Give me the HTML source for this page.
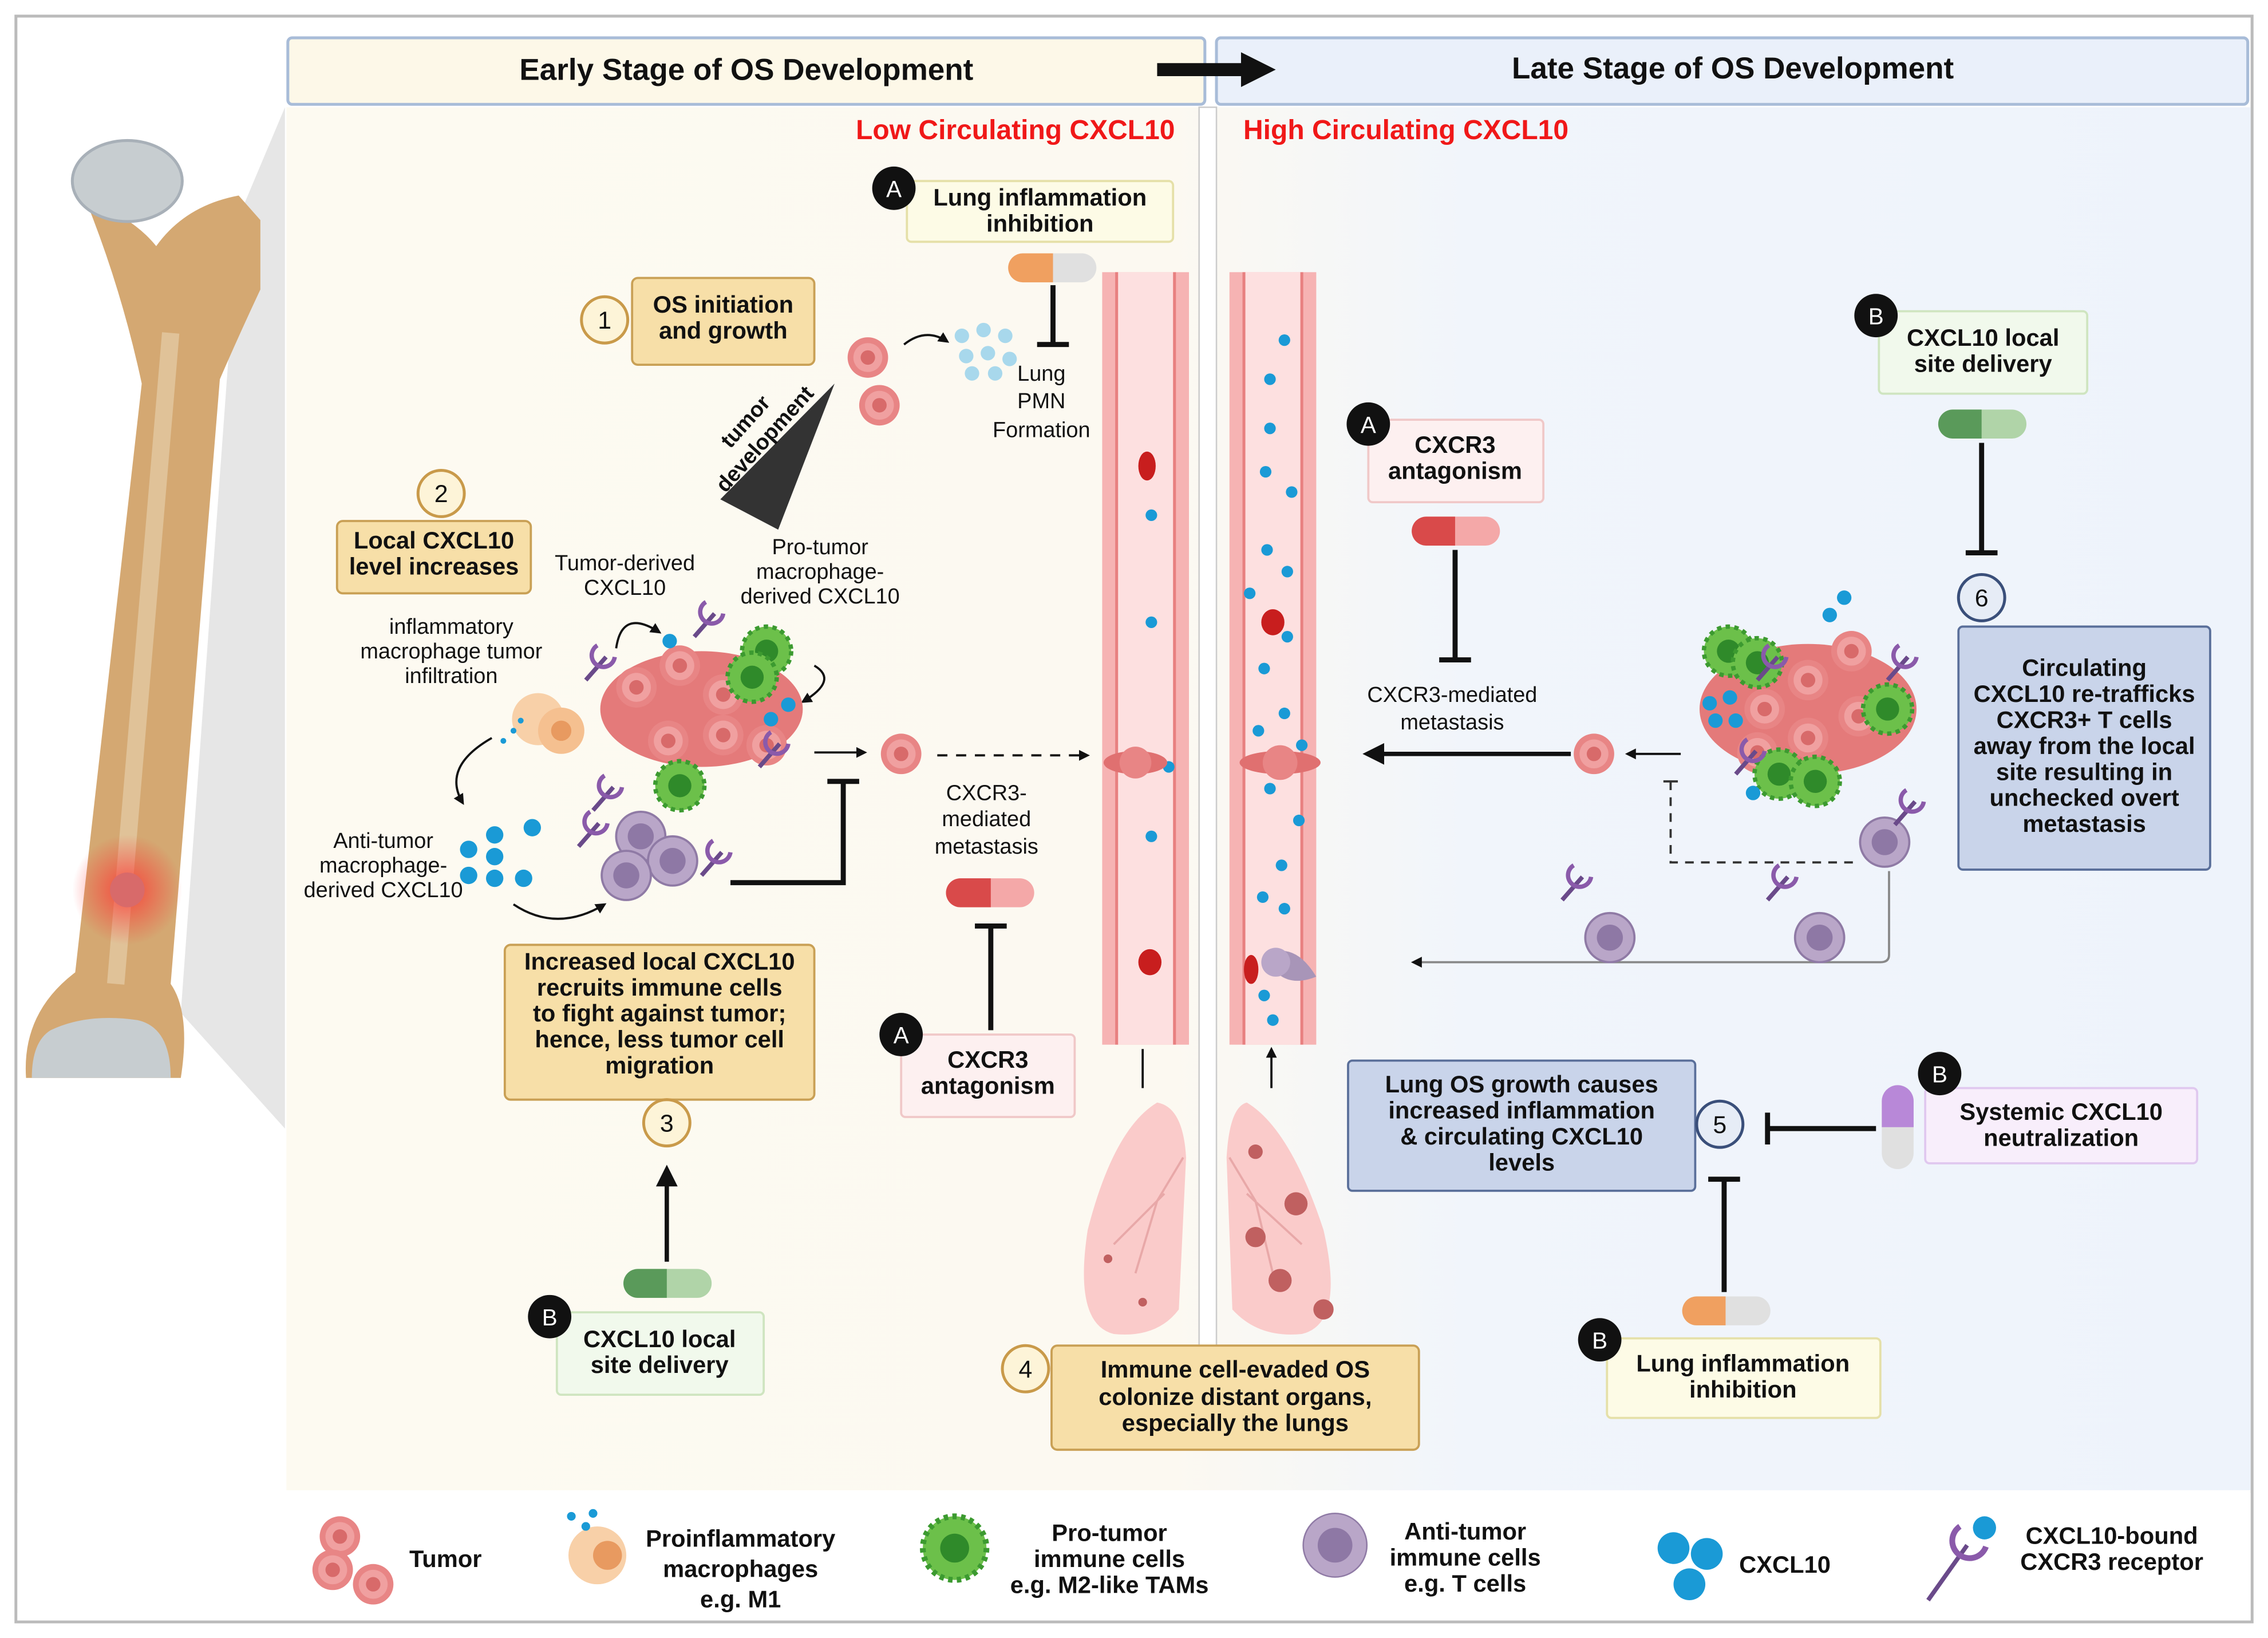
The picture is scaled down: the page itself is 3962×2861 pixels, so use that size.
<!DOCTYPE html>
<html><head><meta charset="utf-8"><style>
html,body{margin:0;padding:0;background:#fff}
svg{display:block}
text{font-family:"Liberation Sans",sans-serif;}
.b{font-weight:bold;font-size:16.5px;fill:#111;text-anchor:middle}
.n{font-size:15px;fill:#111;text-anchor:middle}
</style></head><body>
<svg width="3962" height="2861" viewBox="0 0 1568 1132" xmlns="http://www.w3.org/2000/svg">
<defs>
<linearGradient id="bg" x1="0" x2="1" y1="0" y2="0">
<stop offset="0" stop-color="#fdfaf1"/><stop offset="0.45" stop-color="#fcf9f1"/><stop offset="0.6" stop-color="#f1f5fb"/><stop offset="1" stop-color="#eef3fb"/></linearGradient>
<radialGradient id="glow"><stop offset="0" stop-color="#ff3030" stop-opacity="0.8"/><stop offset="1" stop-color="#ff3030" stop-opacity="0"/></radialGradient>
<marker id="ah" viewBox="0 0 10 10" refX="8" refY="5" markerWidth="5" markerHeight="5" orient="auto"><path d="M0,0L10,5L0,10z" fill="#111"/></marker>
<g id="tum"><circle r="14" fill="#e88585"/><circle r="10" fill="#f0a0a0"/><circle r="5" fill="#d86a6a"/></g>
<g id="grn"><circle r="17" fill="#6cc04a" stroke="#3c9a30" stroke-width="3" stroke-dasharray="3 3"/><circle r="8" fill="#2f8a2a"/></g>
<g id="pur"><circle r="17" fill="#b9a6c8" stroke="#8f7aa5" stroke-width="1.5"/><circle r="9" fill="#8e78a5"/></g>
<g id="rec"><line x1="0" y1="0" x2="14" y2="-16" stroke="#6a4a8a" stroke-width="3"/><path d="M8,-24 a8,8 0 1,0 12,8" fill="none" stroke="#8a5aaa" stroke-width="3"/></g>
</defs>
<rect x="0" y="0" width="1568" height="1132" fill="#fff"/>
<rect x="11" y="11" width="1546" height="1110" fill="#fff" stroke="#bbb" stroke-width="2"/>
<rect x="198" y="74" width="1358" height="956" fill="url(#bg)"/>
<!-- gray projection -->
<polygon points="165,150 197,74 197,780 125,700" fill="#e6e6e6"/>
<!-- bone -->
<path d="M60,140 Q90,148 108,170 Q128,142 165,135 L180,152 L180,200 Q165,232 152,262 L118,680 Q132,700 125,745 L18,745 Q15,700 52,672 L98,265 Q84,200 60,140 Z" fill="#d4a872"/>
<path d="M118,230 L80,680" stroke="#e0c298" stroke-width="12" fill="none"/>
<ellipse cx="88" cy="125" rx="38" ry="28" fill="#c7cdd0" stroke="#a8b0b8" stroke-width="2"/>
<path d="M35,712 Q60,700 95,705 Q118,710 118,745 L22,745 Q22,720 35,712 Z" fill="#c7cdd0"/>
<circle cx="88" cy="615" r="38" fill="url(#glow)"/>
<circle cx="88" cy="615" r="12" fill="#d86a6a"/>
<!-- headers -->
<rect x="199" y="26" width="634" height="46" rx="3" fill="#fdf8e8" stroke="#a8bcd8" stroke-width="2"/>
<rect x="841" y="26" width="713" height="46" rx="3" fill="#eaf0fa" stroke="#a8bcd8" stroke-width="2"/>
<text x="516" y="55" class="b" style="font-size:21px">Early Stage of OS Development</text>
<text x="1198" y="54" class="b" style="font-size:21px">Late Stage of OS Development</text>
<path d="M800,48 L862,48" stroke="#111" stroke-width="9"/><path d="M858,36 L882,48 L858,60z" fill="#111"/>
<text x="702" y="96" class="b" style="fill:#f01818;font-size:19px">Low Circulating CXCL10</text>
<text x="972" y="96" class="b" style="fill:#f01818;font-size:19px">High Circulating CXCL10</text>
<!-- divider -->
<rect x="829" y="74" width="12" height="856" fill="#fff" stroke="#ccc"/>
<!-- vessels -->
<g>
<rect x="762" y="188" width="60" height="534" fill="#f6b3b3"/>
<rect x="772" y="188" width="40" height="534" fill="#fde0e0"/>
<rect x="850" y="188" width="60" height="534" fill="#f6b3b3"/>
<rect x="860" y="188" width="40" height="534" fill="#fde0e0"/>
<path d="M772,188 V722 M812,188 V722 M860,188 V722 M900,188 V722" stroke="#e88080" stroke-width="2"/>
<ellipse cx="793" cy="322" rx="6" ry="10" fill="#c81e1e"/>
<ellipse cx="795" cy="665" rx="8" ry="9" fill="#c81e1e"/>
<ellipse cx="880" cy="430" rx="8" ry="9" fill="#c81e1e"/>
<ellipse cx="865" cy="670" rx="5" ry="10" fill="#c81e1e"/>
<g fill="#1a9ad6">
<circle cx="796" cy="356" r="4"/><circle cx="796" cy="430" r="4"/><circle cx="808" cy="530" r="4"/><circle cx="796" cy="578" r="4"/>
<circle cx="888" cy="235" r="4"/><circle cx="878" cy="262" r="4"/><circle cx="878" cy="296" r="4"/><circle cx="875" cy="326" r="4"/><circle cx="893" cy="340" r="4"/>
<circle cx="876" cy="380" r="4"/><circle cx="890" cy="395" r="4"/><circle cx="864" cy="410" r="4"/><circle cx="890" cy="440" r="4"/><circle cx="874" cy="462" r="4"/>
<circle cx="888" cy="493" r="4"/><circle cx="870" cy="505" r="4"/><circle cx="900" cy="515" r="4"/><circle cx="878" cy="545" r="4"/><circle cx="898" cy="567" r="4"/><circle cx="886" cy="598" r="4"/><circle cx="873" cy="620" r="4"/><circle cx="888" cy="628" r="4"/><circle cx="874" cy="688" r="4"/><circle cx="880" cy="705" r="4"/></g>
<ellipse cx="785" cy="527" rx="22" ry="8" fill="#e07070"/><circle cx="785" cy="527" r="11" fill="#e88585"/>
<ellipse cx="885" cy="527" rx="28" ry="8" fill="#e07070"/><circle cx="885" cy="527" r="12" fill="#e88585"/>
<path d="M875,660 q20,-10 35,15 q-25,10 -35,-15z" fill="#a895b8"/><circle cx="882" cy="665" r="10" fill="#b9a6c8"/>
</g>
<path d="M790,752 V725 M879,752 V725" stroke="#111" stroke-width="1.5" marker-end="url(#ah)"/>
<!-- lungs -->
<path d="M800,762 Q770,780 752,850 Q742,915 770,922 Q800,925 815,905 L820,800 Q818,765 800,762Z" fill="#f9c5c5" opacity="0.9"/>
<path d="M862,762 Q892,780 915,850 Q930,915 900,922 Q870,925 852,905 L848,800 Q850,765 862,762Z" fill="#f9c5c5" opacity="0.9"/>
<path d="M818,800 L800,830 L785,880 M805,825 L770,860 M850,800 L868,830 L880,880 M862,825 L900,860" stroke="#e8a8a8" stroke-width="1.5" fill="none"/>
<g fill="#c06060"><circle cx="868" cy="796" r="5"/><circle cx="896" cy="832" r="8"/><circle cx="868" cy="855" r="7"/><circle cx="885" cy="885" r="8"/><circle cx="915" cy="905" r="7"/><circle cx="766" cy="870" r="3"/><circle cx="790" cy="900" r="3"/></g>
<!-- boxes -->
<g stroke-width="1.5">
<rect x="437" y="192" width="126" height="60" rx="4" fill="#f7dfa8" stroke="#c9a055"/>
<rect x="233" y="360" width="134" height="50" rx="4" fill="#f7dfa8" stroke="#c9a055"/>
<rect x="349" y="653" width="214" height="107" rx="4" fill="#f7dfa8" stroke="#c9a055"/>
<rect x="727" y="930" width="254" height="72" rx="4" fill="#f7dfa8" stroke="#c9a055"/>
<rect x="627" y="125" width="184" height="42" rx="3" fill="#fdfbe6" stroke="#e5e0a8"/>
<rect x="1111" y="925" width="189" height="55" rx="3" fill="#fdfbe6" stroke="#e5e0a8"/>
<rect x="946" y="290" width="121" height="57" rx="3" fill="#fdf0f0" stroke="#f0c8c8"/>
<rect x="623" y="715" width="120" height="57" rx="3" fill="#fdf0f0" stroke="#f0c8c8"/>
<rect x="1299" y="215" width="144" height="57" rx="3" fill="#f1f9ec" stroke="#cfe5c0"/>
<rect x="385" y="907" width="143" height="57" rx="3" fill="#f1f9ec" stroke="#cfe5c0"/>
<rect x="1331" y="752" width="188" height="52" rx="3" fill="#f8eefb" stroke="#e0c8ef"/>
<rect x="1354" y="433" width="174" height="168" rx="3" fill="#c9d4ea" stroke="#5a6f9a"/>
<rect x="932" y="733" width="240" height="90" rx="3" fill="#c9d4ea" stroke="#5a6f9a"/>
</g>
<text class="b"><tspan x="500" y="216">OS initiation</tspan><tspan x="500" y="234">and growth</tspan></text>
<text class="b"><tspan x="300" y="379">Local CXCL10</tspan><tspan x="300" y="397">level increases</tspan></text>
<text class="b"><tspan x="456" y="670">Increased local CXCL10</tspan><tspan x="456" y="688">recruits immune cells</tspan><tspan x="456" y="706">to fight against tumor;</tspan><tspan x="456" y="724">hence, less tumor cell</tspan><tspan x="456" y="742">migration</tspan></text>
<text class="b"><tspan x="854" y="952">Immune cell-evaded OS</tspan><tspan x="854" y="971">colonize distant organs,</tspan><tspan x="854" y="989">especially the lungs</tspan></text>
<text class="b"><tspan x="719" y="142">Lung inflammation</tspan><tspan x="719" y="160">inhibition</tspan></text>
<text class="b"><tspan x="1205" y="948">Lung inflammation</tspan><tspan x="1205" y="966">inhibition</tspan></text>
<text class="b"><tspan x="1006" y="313">CXCR3</tspan><tspan x="1006" y="331">antagonism</tspan></text>
<text class="b"><tspan x="683" y="738">CXCR3</tspan><tspan x="683" y="756">antagonism</tspan></text>
<text class="b"><tspan x="1371" y="239">CXCL10 local</tspan><tspan x="1371" y="257">site delivery</tspan></text>
<text class="b"><tspan x="456" y="931">CXCL10 local</tspan><tspan x="456" y="949">site delivery</tspan></text>
<text class="b"><tspan x="1425" y="774">Systemic CXCL10</tspan><tspan x="1425" y="792">neutralization</tspan></text>
<text class="b"><tspan x="1441" y="467">Circulating</tspan><tspan x="1441" y="485">CXCL10 re-trafficks</tspan><tspan x="1441" y="503">CXCR3+ T cells</tspan><tspan x="1441" y="521">away from the local</tspan><tspan x="1441" y="539">site resulting in</tspan><tspan x="1441" y="557">unchecked overt</tspan><tspan x="1441" y="575">metastasis</tspan></text>
<text class="b"><tspan x="1052" y="755">Lung OS growth causes</tspan><tspan x="1052" y="773">increased inflammation</tspan><tspan x="1052" y="791">&amp; circulating CXCL10</tspan><tspan x="1052" y="809">levels</tspan></text>
<!-- numbered circles -->
<g stroke-width="2" fill="#fdf4d8" stroke="#c99a4a">
<circle cx="418" cy="221" r="16"/><circle cx="305" cy="341" r="16"/><circle cx="461" cy="776" r="16"/><circle cx="709" cy="946" r="16"/></g>
<g stroke-width="2" fill="#e6ecf6" stroke="#3a4f7a"><circle cx="1189" cy="777" r="16"/><circle cx="1370" cy="413" r="16"/></g>
<g><text x="418" y="227" class="n" style="font-size:17px">1</text><text x="305" y="347" class="n" style="font-size:17px">2</text><text x="461" y="782" class="n" style="font-size:17px">3</text><text x="709" y="952" class="n" style="font-size:17px">4</text><text x="1189" y="783" class="n" style="font-size:17px">5</text><text x="1370" y="419" class="n" style="font-size:17px">6</text></g>
<g fill="#111"><circle cx="618" cy="130" r="15"/><circle cx="1297" cy="218" r="15"/><circle cx="946" cy="293" r="15"/><circle cx="623" cy="715" r="15"/><circle cx="380" cy="910" r="15"/><circle cx="1341" cy="742" r="15"/><circle cx="1106" cy="926" r="15"/></g>
<g style="fill:#fff;font-size:16px;text-anchor:middle"><text x="618" y="136">A</text><text x="1297" y="224">B</text><text x="946" y="299">A</text><text x="623" y="721">A</text><text x="380" y="916">B</text><text x="1341" y="748">B</text><text x="1106" y="932">B</text></g>
<!-- pills -->
<g>
<rect x="697" y="175" width="61" height="20" rx="10" fill="#e0e0e0"/><path d="M707,175 H728 V195 H707 a10,10 0 0,1 0,-20z" fill="#f0a060"/>
<rect x="976" y="357" width="61" height="20" rx="10" fill="#f4a8a8"/><path d="M986,357 H1006 V377 H986 a10,10 0 0,1 0,-20z" fill="#d94a4a"/>
<rect x="654" y="607" width="61" height="20" rx="10" fill="#f4a8a8"/><path d="M664,607 H685 V627 H664 a10,10 0 0,1 0,-20z" fill="#d94a4a"/>
<rect x="1340" y="283" width="61" height="20" rx="10" fill="#b0d4a8"/><path d="M1350,283 H1370 V303 H1350 a10,10 0 0,1 0,-20z" fill="#5a9a5a"/>
<rect x="431" y="877" width="61" height="20" rx="10" fill="#b0d4a8"/><path d="M441,877 H461 V897 H441 a10,10 0 0,1 0,-20z" fill="#5a9a5a"/>
<rect x="1163" y="896" width="61" height="20" rx="10" fill="#e0e0e0"/><path d="M1173,896 H1193 V916 H1173 a10,10 0 0,1 0,-20z" fill="#f0a060"/>
<rect x="1301" y="750" width="22" height="58" rx="11" fill="#e0e0e0"/><path d="M1301,779 V761 a11,11 0 0,1 22,0 V779z" fill="#b888d8"/>
</g>
<!-- inhibition lines -->
<g stroke="#111" stroke-width="3.5" fill="none">
<path d="M728,197 V238 M717,238 H739"/>
<path d="M1006,380 V456 M995,456 H1017"/>
<path d="M1370,306 V382 M1359,382 H1381"/>
<path d="M685,712 V640 M674,640 H696"/>
<path d="M1192,893 V815 M1181,815 H1203"/>
<path d="M1297,780 H1222 M1222,769 V791"/>
<path d="M505,610 H583 V540 M572,540 H594"/>
</g>
<path d="M461,872 V808" stroke="#111" stroke-width="3" marker-end="url(#ah)"/>
<path d="M1086,521 H945" stroke="#111" stroke-width="3" marker-end="url(#ah)"/>
<path d="M1306,602 V660 Q1306,665 1300,665 H977" stroke="#888" stroke-width="1.5" fill="none" marker-end="url(#ah)"/>
<path d="M1155,540 V596 H1285" stroke="#333" stroke-width="1.5" stroke-dasharray="6 5" fill="none"/>
<path d="M1150,540 H1160" stroke="#333" stroke-width="1.5"/>
<path d="M1162,521 H1125" stroke="#111" stroke-width="1.5" marker-end="url(#ah)"/>
<path d="M648,522 H752" stroke="#111" stroke-width="1.5" stroke-dasharray="7 6" marker-end="url(#ah)"/>
<path d="M563,520 H598" stroke="#111" stroke-width="1.5" marker-end="url(#ah)"/>
<path d="M625,238 Q640,226 655,236" stroke="#111" stroke-width="1.5" fill="none" marker-end="url(#ah)"/>
<path d="M426,448 Q430,420 456,437" stroke="#111" stroke-width="1.5" fill="none" marker-end="url(#ah)"/>
<path d="M563,460 Q580,470 555,485" stroke="#111" stroke-width="1.5" fill="none" marker-end="url(#ah)"/>
<path d="M340,510 Q305,530 320,555" stroke="#111" stroke-width="1.5" fill="none" marker-end="url(#ah)"/>
<path d="M355,625 Q385,645 418,625" stroke="#111" stroke-width="1.5" fill="none" marker-end="url(#ah)"/>
<!-- triangle tumor development -->
<polygon points="577,265 498,345 538,366" fill="#333"/>
<text class="b" transform="rotate(-48 525 300)" style="font-size:15px"><tspan x="525" y="292">tumor</tspan><tspan x="525" y="310">development</tspan></text>
<!-- tumors top -->
<use href="#tum" x="600" y="247"/><use href="#tum" x="608" y="280"/>
<g fill="#a8d8ec"><circle cx="665" cy="232" r="5"/><circle cx="680" cy="228" r="5"/><circle cx="695" cy="232" r="5"/><circle cx="668" cy="246" r="5"/><circle cx="683" cy="244" r="5"/><circle cx="698" cy="248" r="5"/><circle cx="672" cy="258" r="5"/><circle cx="688" cy="258" r="5"/></g>
<text class="n"><tspan x="720" y="263">Lung</tspan><tspan x="720" y="282">PMN</tspan><tspan x="720" y="302">Formation</tspan></text>
<text class="n"><tspan x="432" y="394">Tumor-derived</tspan><tspan x="432" y="411">CXCL10</tspan></text>
<text class="n"><tspan x="567" y="383">Pro-tumor</tspan><tspan x="567" y="400">macrophage-</tspan><tspan x="567" y="417">derived CXCL10</tspan></text>
<text class="n"><tspan x="312" y="438">inflammatory</tspan><tspan x="312" y="455">macrophage tumor</tspan><tspan x="312" y="472">infiltration</tspan></text>
<text class="n"><tspan x="265" y="586">Anti-tumor</tspan><tspan x="265" y="603">macrophage-</tspan><tspan x="265" y="620">derived CXCL10</tspan></text>
<text class="n"><tspan x="682" y="553">CXCR3-</tspan><tspan x="682" y="571">mediated</tspan><tspan x="682" y="590">metastasis</tspan></text>
<text class="n"><tspan x="1004" y="485">CXCR3-mediated</tspan><tspan x="1004" y="504">metastasis</tspan></text>
<!-- left tumor cluster -->
<g><ellipse cx="485" cy="490" rx="70" ry="40" fill="#e47a7a"/>
<use href="#tum" x="440" y="475"/><use href="#tum" x="470" y="460"/><use href="#tum" x="500" y="480"/><use href="#tum" x="462" y="512"/><use href="#tum" x="500" y="508"/><use href="#tum" x="530" y="515"/>
<use href="#grn" x="530" y="450"/><use href="#grn" x="520" y="468"/><use href="#grn" x="470" y="543"/>
<use href="#rec" x="405" y="470"/><use href="#rec" x="480" y="440"/><use href="#rec" x="525" y="530"/>
<circle cx="463" cy="443" r="5" fill="#1a9ad6"/><circle cx="533" cy="497" r="5" fill="#1a9ad6"/><circle cx="545" cy="487" r="5" fill="#1a9ad6"/>
<circle cx="372" cy="497" r="18" fill="#f8d0a8"/><circle cx="388" cy="505" r="16" fill="#f5c090"/><circle cx="388" cy="505" r="7" fill="#e89a60"/>
<g fill="#1a9ad6"><circle cx="348" cy="512" r="2"/><circle cx="355" cy="505" r="2"/><circle cx="360" cy="498" r="2"/></g>
<use href="#pur" x="443" y="578"/><use href="#pur" x="465" y="595"/><use href="#pur" x="433" y="605"/>
<use href="#rec" x="410" y="560"/><use href="#rec" x="400" y="585"/><use href="#rec" x="485" y="605"/>
<g fill="#1a9ad6"><circle cx="324" cy="587" r="6"/><circle cx="342" cy="577" r="6"/><circle cx="368" cy="572" r="6"/><circle cx="342" cy="592" r="6"/><circle cx="324" cy="605" r="6"/><circle cx="342" cy="607" r="6"/><circle cx="362" cy="607" r="6"/></g>
<use href="#tum" x="623" y="521"/>
</g>
<!-- right tumor cluster -->
<g><ellipse cx="1250" cy="490" rx="75" ry="45" fill="#e47a7a"/>
<use href="#tum" x="1220" y="490"/><use href="#tum" x="1250" y="470"/><use href="#tum" x="1280" y="450"/><use href="#tum" x="1250" y="510"/><use href="#tum" x="1285" y="495"/><use href="#tum" x="1215" y="520"/>
<use href="#grn" x="1195" y="450"/><use href="#grn" x="1215" y="458"/><use href="#grn" x="1305" y="490"/><use href="#grn" x="1230" y="535"/><use href="#grn" x="1255" y="540"/>
<use href="#rec" x="1215" y="470"/><use href="#rec" x="1305" y="470"/><use href="#rec" x="1200" y="535"/>
<g fill="#1a9ad6"><circle cx="1265" cy="425" r="5"/><circle cx="1275" cy="413" r="5"/><circle cx="1182" cy="486" r="5"/><circle cx="1196" cy="482" r="5"/><circle cx="1186" cy="498" r="5"/><circle cx="1200" cy="498" r="5"/><circle cx="1212" cy="548" r="5"/></g>
<use href="#pur" x="1303" y="582"/><use href="#rec" x="1310" y="570"/>
<use href="#tum" x="1102" y="521"/>
<use href="#pur" x="1113" y="648"/><use href="#rec" x="1080" y="622"/>
<use href="#pur" x="1258" y="648"/><use href="#rec" x="1222" y="622"/>
</g>
<!-- legend -->
<rect x="12" y="1032" width="1544" height="88" fill="#fff"/>
<use href="#tum" x="235" y="1062"/><use href="#tum" x="258" y="1095"/><use href="#tum" x="230" y="1085"/>
<text x="308" y="1083" class="b">Tumor</text>
<circle cx="413" cy="1075" r="20" fill="#f8d0a8"/><circle cx="420" cy="1075" r="10" fill="#e89a60"/>
<g fill="#1a9ad6"><circle cx="395" cy="1048" r="3"/><circle cx="405" cy="1055" r="3"/><circle cx="410" cy="1046" r="3"/></g>
<text class="b"><tspan x="512" y="1069">Proinflammatory</tspan><tspan x="512" y="1090">macrophages</tspan><tspan x="512" y="1111">e.g. M1</tspan></text>
<circle cx="660" cy="1070" r="22" fill="#6cc04a" stroke="#3c9a30" stroke-width="4" stroke-dasharray="3 3"/><circle cx="660" cy="1070" r="10" fill="#2f8a2a"/>
<text class="b"><tspan x="767" y="1065">Pro-tumor</tspan><tspan x="767" y="1083">immune cells</tspan><tspan x="767" y="1101">e.g. M2-like TAMs</tspan></text>
<circle cx="923" cy="1068" r="22" fill="#b9a6c8" stroke="#8f7aa5"/><circle cx="923" cy="1068" r="12" fill="#8e78a5"/>
<text class="b"><tspan x="1013" y="1064">Anti-tumor</tspan><tspan x="1013" y="1082">immune cells</tspan><tspan x="1013" y="1100">e.g. T cells</tspan></text>
<g fill="#1a9ad6"><circle cx="1157" cy="1070" r="11"/><circle cx="1180" cy="1074" r="11"/><circle cx="1168" cy="1095" r="11"/></g>
<text x="1234" y="1087" class="b">CXCL10</text>
<path d="M1333,1106 L1360,1068" stroke="#6a4a8a" stroke-width="3"/><path d="M1355,1055 a12,12 0 1,0 18,14" fill="none" stroke="#8a5aaa" stroke-width="4"/><circle cx="1372" cy="1056" r="8" fill="#1a9ad6"/>
<text class="b"><tspan x="1460" y="1067">CXCL10-bound</tspan><tspan x="1460" y="1085">CXCR3 receptor</tspan></text>
</svg>
</body></html>
